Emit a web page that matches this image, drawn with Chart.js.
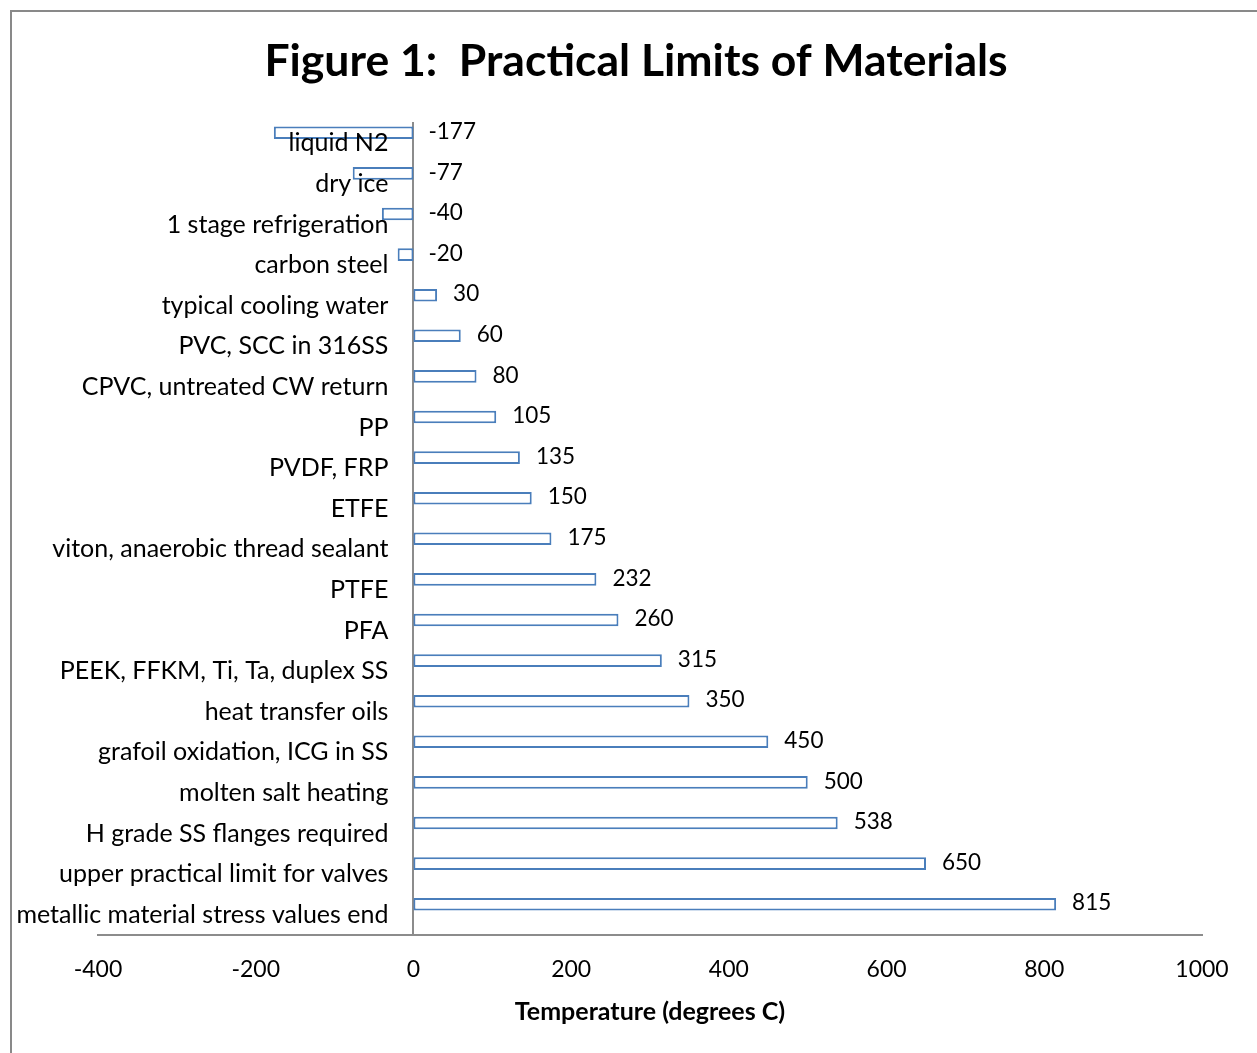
<!DOCTYPE html>
<html>
<head>
<meta charset="utf-8">
<title>Practical Limits of Materials</title>
<script src="https://cdn.jsdelivr.net/npm/chart.js@4.4.1/dist/chart.umd.min.js"></script>
<style>
  html, body { margin: 0; padding: 0; background: #ffffff; }
  #wrap { position: relative; width: 1257px; height: 1053px; }
  canvas { display: block; }
</style>
</head>
<body>
<div id="wrap"><canvas id="chart" width="1257" height="1053"></canvas></div>
<script>
// Materials and the temperature limit (degrees C) associated with each
const materials = [
  'liquid N2',
  'dry ice',
  '1 stage refrigeration',
  'carbon steel',
  'typical cooling water',
  'PVC, SCC in 316SS',
  'CPVC, untreated CW return',
  'PP',
  'PVDF, FRP',
  'ETFE',
  'viton, anaerobic thread sealant',
  'PTFE',
  'PFA',
  'PEEK, FFKM, Ti, Ta, duplex SS',
  'heat transfer oils',
  'grafoil oxidation, ICG in SS',
  'molten salt heating',
  'H grade SS flanges required',
  'upper practical limit for valves',
  'metallic material stress values end'
];
const temperatures = [-177, -77, -40, -20, 30, 60, 80, 105, 135, 150, 175, 232, 260, 315, 350, 450, 500, 538, 650, 815];
// second (empty) series of the workbook; it keeps its slot in each category
const emptySeries = [];
const axisTicks = [-400, -200, 0, 200, 400, 600, 800, 1000];

const FONT = 'Lato, "Liberation Sans", sans-serif';

// frame, title, category names and value labels
const decorations = {
  id: 'decorations',
  beforeDraw(chart) {
    const ctx = chart.ctx;
    ctx.save();
    ctx.fillStyle = '#ffffff';
    ctx.fillRect(0, 0, chart.width, chart.height);
    ctx.strokeStyle = '#898989';
    ctx.lineWidth = 2;
    ctx.beginPath();
    ctx.moveTo(11, chart.height);
    ctx.lineTo(11, 11);
    ctx.lineTo(chart.width, 11);
    ctx.stroke();
    ctx.restore();
  },
  afterDraw(chart) {
    const ctx = chart.ctx;
    const xs = chart.scales.x;
    const ys = chart.scales.y;
    const zero = xs.getPixelForValue(0);
    ctx.save();
    ctx.fillStyle = '#000000';

    // title
    ctx.font = 'bold 44.5px ' + FONT;
    ctx.textAlign = 'center';
    ctx.textBaseline = 'middle';
    ctx.fillText('Figure 1:  Practical Limits of Materials', 636, 62);

    // category names, right-aligned next to the zero line
    ctx.font = '25px ' + FONT;
    ctx.textAlign = 'right';
    materials.forEach((name, i) => {
      ctx.fillText(name, zero - 25, ys.getPixelForValue(i));
    });

    // value labels beside each bar
    const meta = chart.getDatasetMeta(0);
    ctx.font = '22.5px ' + FONT;
    ctx.textAlign = 'left';
    temperatures.forEach((v, i) => {
      const bar = meta.data[i];
      const x = v >= 0 ? bar.x + 16 : zero + 15;
      ctx.fillText(String(v), x, bar.y - 1);
    });
    ctx.restore();
  }
};

new Chart(document.getElementById('chart'), {
  type: 'bar',
  data: {
    labels: materials,
    datasets: [
      {
        data: temperatures,
        backgroundColor: '#ffffff',
        borderColor: '#4a7ebb',
        borderWidth: 2,
        borderSkipped: false,
        categoryPercentage: 1.034,
        barPercentage: 0.6
      },
      {
        data: emptySeries,
        backgroundColor: '#ffffff',
        borderColor: '#4a7ebb',
        borderWidth: 2,
        categoryPercentage: 1.034,
        barPercentage: 0.6
      }
    ]
  },
  plugins: [decorations],
  options: {
    indexAxis: 'y',
    responsive: false,
    animation: false,
    events: [],
    layout: {
      autoPadding: false,
      padding: { left: 98, right: 55, top: 123, bottom: 23 }
    },
    plugins: {
      legend: { display: false },
      tooltip: { enabled: false },
      title: { display: false }
    },
    scales: {
      x: {
        type: 'linear',
        position: 'bottom',
        min: -400,
        max: 1000,
        afterBuildTicks(scale) {
          scale.ticks = axisTicks.map(v => ({ value: v }));
        },
        afterFit(scale) {
          scale.height = 95;
        },
        grid: { display: false, drawTicks: false },
        border: { display: true, color: '#8c8c8c', width: 2 },
        ticks: {
          padding: 21,
          color: '#000000',
          font: { family: FONT, size: 23 },
          maxRotation: 0,
          autoSkip: false,
          callback: (v) => String(v)
        },
        title: {
          display: true,
          text: 'Temperature (degrees C)',
          color: '#000000',
          font: { family: FONT, size: 25, weight: 'bold' },
          padding: { top: 4, bottom: 3 }
        }
      },
      y: {
        type: 'category',
        position: { x: 0 },
        grid: { display: false, drawTicks: false },
        border: { display: true, color: '#8c8c8c', width: 2 },
        ticks: { display: false }
      }
    }
  }
});
</script>
</body>
</html>
